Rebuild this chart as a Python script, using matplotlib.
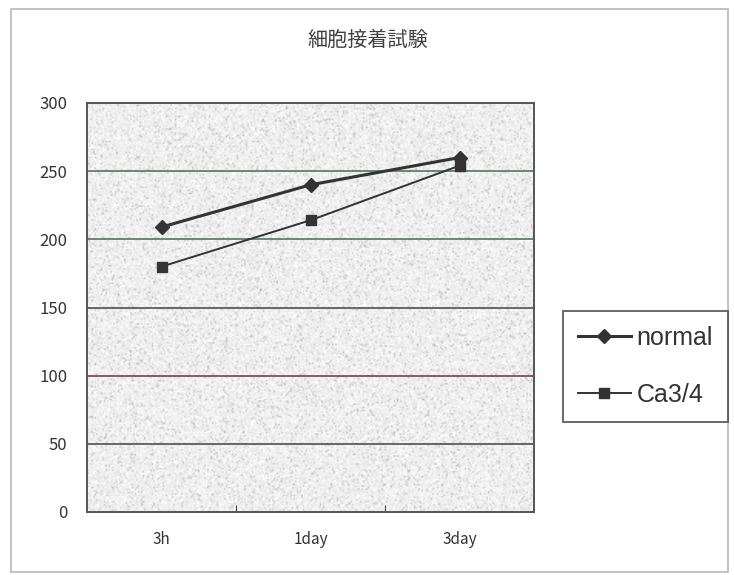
import numpy as np
import matplotlib
matplotlib.use("Agg")
import matplotlib.pyplot as plt
from matplotlib.lines import Line2D

plt.rcParams['font.family'] = ['Noto Sans CJK JP', 'DejaVu Sans']

# data
categories = ["3h", "1day", "3day"]
normal = [209, 240, 260]
ca34 = [180, 214, 254]
y_ticks = [0, 50, 100, 150, 200, 250, 300]
title = "細胞接着試験"

fig = plt.figure(figsize=(7.34, 5.75), dpi=100)
fig.patch.set_facecolor("white")

# light outer frame around the whole chart
fig.add_artist(plt.Rectangle((11 / 734, 3 / 575), 717 / 734, 563 / 575,
                             transform=fig.transFigure, fill=False,
                             edgecolor="#b8b8b8", linewidth=1.2))

ax = fig.add_axes([87 / 734, 63 / 575, 447 / 734, 409 / 575])
x = np.arange(len(categories))

# grainy grey plot area
rng = np.random.default_rng(3)
tex = 0.94 + rng.normal(0, 0.03, (260, 290))
tex -= 0.14 * (rng.random((260, 290)) > 0.92)
tex = np.clip(tex, 0.6, 1.0)
ax.imshow(tex, cmap="gray", vmin=0, vmax=1, extent=(-0.5, 2.5, 0, 300),
          aspect="auto", zorder=0, interpolation="bilinear")

# horizontal gridlines (scanned colours vary a little)
grid_colors = {50: "#505050", 100: "#7a4050", 150: "#505050",
               200: "#4f7a5a", 250: "#4f7a5a"}
for v, c in grid_colors.items():
    ax.axhline(v, color=c, linewidth=1.2, zorder=1)

ax.plot(x, normal, color="#333333", linewidth=2.2, marker="D",
        markersize=7.5, zorder=3, label="normal")
ax.plot(x, ca34, color="#333333", linewidth=1.4, marker="s",
        markersize=7.5, zorder=3, label="Ca3/4")

ax.set_xlim(-0.5, 2.5)
ax.set_ylim(0, 300)
ax.set_yticks(y_ticks)
ax.set_yticklabels([str(v) for v in y_ticks], fontsize=12, color="#333333")
ax.tick_params(axis="y", length=0, pad=14)

# tick marks between categories, labels at category centres
ax.set_xticks([0.5, 1.5])
ax.set_xticklabels([])
ax.tick_params(axis="x", which="major", direction="in", length=5,
               color="#444444")
ax.set_xticks(x, minor=True)
ax.set_xticklabels(categories, minor=True, fontsize=11, color="#333333")
ax.tick_params(axis="x", which="minor", length=0, pad=14)

for s in ax.spines.values():
    s.set_color("#555555")
    s.set_linewidth(1.4)

fig.text(368 / 734, 1 - 40 / 575, title, ha="center", va="center",
         fontsize=14.5, color="#404040")

handles = [Line2D([0], [0], color="#333333", linewidth=2.2, marker="D",
                  markersize=7),
           Line2D([0], [0], color="#333333", linewidth=1.4, marker="s",
                  markersize=7)]
leg = fig.legend(handles, ["normal", "Ca3/4"], loc="upper left",
                 bbox_to_anchor=(563 / 734, 1 - 311 / 575),
                 borderaxespad=0, frameon=True, fancybox=False,
                 handlelength=2.1, labelspacing=1.3, borderpad=0.6,
                 handletextpad=0.25,
                 prop={"family": ["Liberation Sans"], "size": 18})
leg.get_frame().set_edgecolor("#444444")
leg.get_frame().set_linewidth(1.4)
for t in leg.get_texts():
    t.set_color("#333333")

fig.savefig("out.png", dpi=100)
